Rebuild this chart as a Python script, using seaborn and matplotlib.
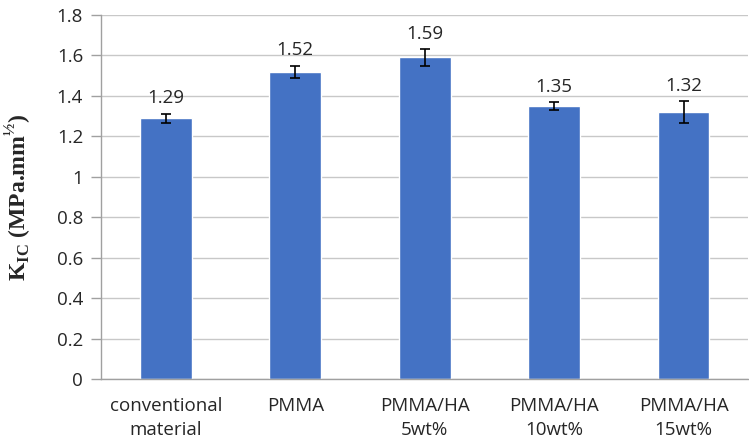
import pandas as pd
import numpy as np
import matplotlib.pyplot as plt
import seaborn as sns

# dane z wykresu
categories = ['conventional\nmaterial', 'PMMA', 'PMMA/HA\n5wt%', 'PMMA/HA\n10wt%', 'PMMA/HA\n15wt%']
kic_values = [1.29, 1.52, 1.59, 1.35, 1.32]
kic_errors = [0.022, 0.03, 0.04, 0.02, 0.055]
y_ticks = [0, 0.2, 0.4, 0.6, 0.8, 1, 1.2, 1.4, 1.6, 1.8]
y_tick_labels = ['0', '0.2', '0.4', '0.6', '0.8', '1', '1.2', '1.4', '1.6', '1.8']

sns.set_style('white')
plt.rcParams['font.family'] = ['Open Sans', 'DejaVu Sans']
plt.rcParams['mathtext.fontset'] = 'custom'
plt.rcParams['mathtext.rm'] = 'Liberation Serif'
plt.rcParams['mathtext.bf'] = 'Liberation Serif:bold'

df = pd.DataFrame({'material': categories, 'kic': kic_values, 'err': kic_errors})

fig = plt.figure(figsize=(7.49, 4.48), dpi=100)
ax = fig.add_axes([0.135, 0.154, 0.864, 0.8125])

ax.yaxis.grid(True, color='#c8c8c8', linewidth=1)
ax.set_axisbelow(True)

sns.barplot(data=df, x='material', y='kic', color='#4472C4', saturation=1,
            width=0.4, errorbar=None, ax=ax)

# słupki błędów i etykiety wartości
xs = [p.get_x() + p.get_width() / 2 for p in ax.patches]
ax.errorbar(xs, df['kic'], yerr=df['err'], fmt='none', ecolor='black',
            elinewidth=1.2, capsize=3.5, capthick=1.2)
for x, v, e in zip(xs, df['kic'], df['err']):
    ax.annotate(f'{v:.2f}', (x, v + e), xytext=(0, 4.5), textcoords='offset points',
                ha='center', va='bottom', fontsize=13.5, color='#262626')

ax.set_ylim(0, 1.8)
ax.set_xlim(-0.5, 4.5)
ax.set_yticks(y_ticks)
ax.set_yticklabels(y_tick_labels)
ax.set_xticks(range(len(categories)))
ax.set_xticklabels(categories, linespacing=1.4)
ax.set_xlabel('')
ax.set_ylabel(r'$\mathbf{K}_{\mathbf{IC}}$ (MPa.mm$^{\mathbf{½}}$)',
              fontsize=17, fontweight='bold', family='Liberation Serif')
ax.yaxis.set_label_coords(-0.103, 0.5)

# podziałki między kategoriami
ax.set_xticks(np.arange(-0.5, 5, 1), minor=True)
ax.tick_params(axis='x', which='major', length=0, pad=13, labelsize=13.5, colors='#262626')
ax.tick_params(axis='x', which='minor', length=7, color='#a0a0a0', width=1)
ax.tick_params(axis='y', which='major', length=7, color='#a0a0a0', width=1, pad=6,
               labelsize=13.5, labelcolor='#262626', left=True)

for side in ['top', 'right']:
    ax.spines[side].set_visible(False)
for side in ['left', 'bottom']:
    ax.spines[side].set_color('#a0a0a0')
    ax.spines[side].set_linewidth(1)

plt.savefig('out.png', dpi=100)
